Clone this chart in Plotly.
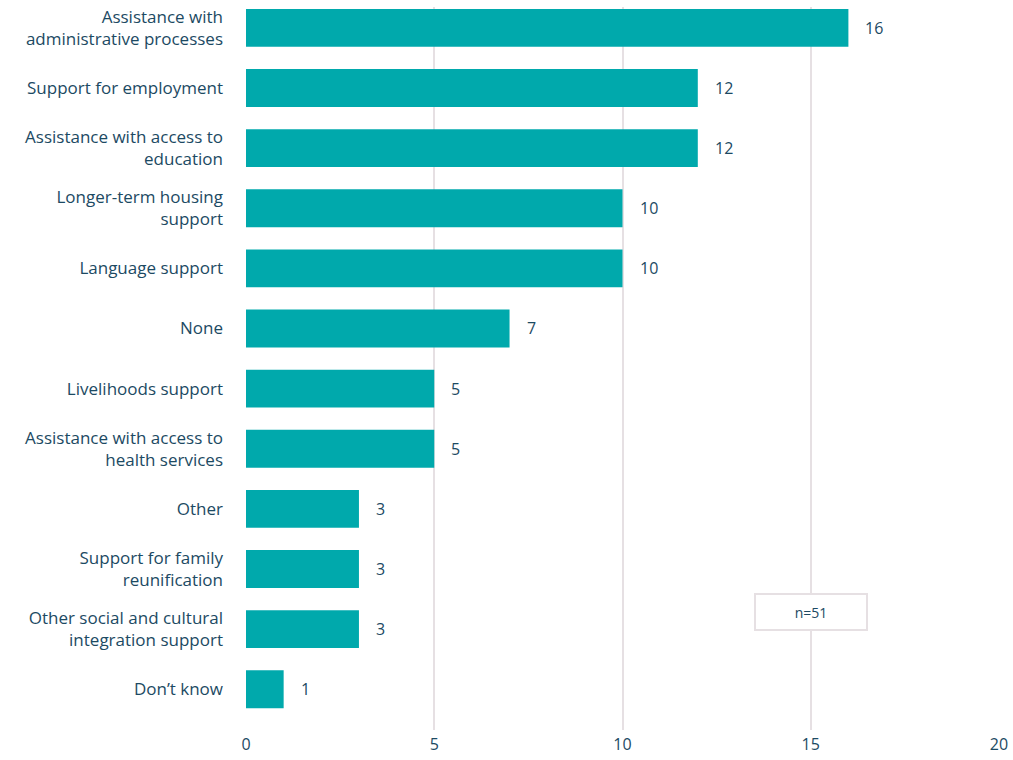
import plotly.graph_objects as go

categories = [
    "Assistance with<br>administrative processes",
    "Support for employment",
    "Assistance with access to<br>education",
    "Longer-term housing<br>support",
    "Language support",
    "None",
    "Livelihoods support",
    "Assistance with access to<br>health services",
    "Other",
    "Support for family<br>reunification",
    "Other social and cultural<br>integration support",
    "Don\u2019t know",
]
values = [16, 12, 12, 10, 10, 7, 5, 5, 3, 3, 3, 1]
x_ticks = [0, 5, 10, 15, 20]
note = "n=51"

text_color = "#1c4a63"
bar_color = "#00a9ac"
grid_color = "#e6e0e3"
font_family = "'Open Sans', 'Noto Sans', sans-serif"

fig = go.Figure()
fig.add_trace(go.Bar(
    x=values,
    y=categories,
    orientation="h",
    marker=dict(color=bar_color, line=dict(width=0)),
    width=0.63,
    hoverinfo="skip",
))

for v, c in zip(values, categories):
    fig.add_annotation(
        x=v, y=c, text=str(v), showarrow=False,
        xanchor="left", xshift=15,
        font=dict(size=16, color=text_color, family=font_family),
    )

fig.add_annotation(
    x=15, y=9.72, xref="x", yref="y",
    text=note, showarrow=False,
    font=dict(size=14, color=text_color, family=font_family),
    bgcolor="white", bordercolor=grid_color, borderwidth=2,
    width=108, height=32,
)

fig.update_layout(
    width=1013, height=760,
    margin=dict(l=246, r=11, t=5, b=28),
    plot_bgcolor="white", paper_bgcolor="white",
    showlegend=False,
    font=dict(family=font_family, color=text_color, size=16),
    xaxis=dict(
        range=[0, 20], tickvals=x_ticks,
        showgrid=True, gridcolor=grid_color, gridwidth=2,
        zeroline=False, showline=False, ticks="",
        tickfont=dict(size=16, color=text_color),
        ticklabelstandoff=3,
    ),
    yaxis=dict(
        type="category",
        range=[11.678, -0.347],
        showgrid=False, zeroline=False, showline=False, ticks="",
        tickfont=dict(size=17, color=text_color),
        ticklabelstandoff=22,
    ),
)

fig.write_html("out.html")
